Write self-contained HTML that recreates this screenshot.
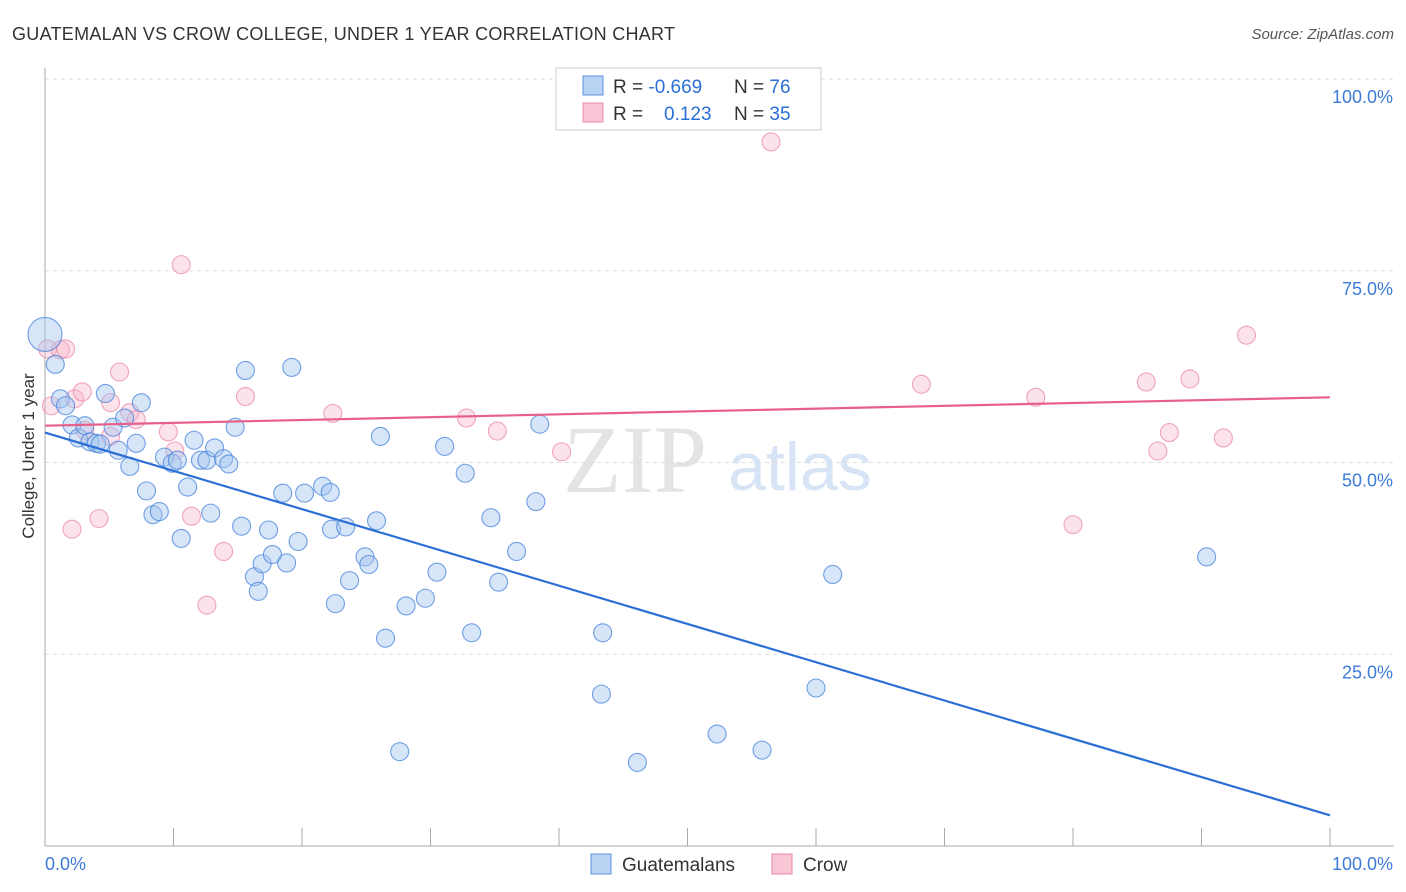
<!DOCTYPE html>
<html><head><meta charset="utf-8">
<style>
body{margin:0;background:#fff;font-family:"Liberation Sans",sans-serif;}
svg{display:block}
</style></head>
<body>
<svg id="chart" width="1406" height="892">
<text x="12" y="40" font-size="18" fill="#333" textLength="663">GUATEMALAN VS CROW COLLEGE, UNDER 1 YEAR CORRELATION CHART</text>
<text x="1394" y="39" font-size="15" fill="#555" font-style="italic" text-anchor="end">Source: ZipAtlas.com</text>
<text x="635" y="492" font-size="96" fill="#e4e4e4" font-family="Liberation Serif,serif" text-anchor="middle">ZIP</text>
<text x="800" y="490" font-size="68" fill="#d6e4f5" text-anchor="middle">atlas</text>
<g id="grid"></g>
<g id="axes"></g>
<g id="marks"></g>
<text transform="translate(34,456) rotate(-90)" font-size="17" fill="#333" text-anchor="middle">College, Under 1 year</text>
<g>
<rect x="556" y="68" width="265" height="62" fill="#fff" stroke="#ccc"/>
<rect x="583" y="76" width="20" height="19" fill="#b9d3f5" stroke="#5b8fde"/>
<rect x="583" y="103" width="20" height="19" fill="#f9c6d5" stroke="#e88aa5"/>
<text x="613" y="93" font-size="19" fill="#333">R = <tspan fill="#2b6fd6">-0.669</tspan><tspan x="734">N = </tspan><tspan fill="#2b6fd6">76</tspan></text>
<text x="613" y="120" font-size="19" fill="#333">R = <tspan x="664" fill="#2b6fd6">0.123</tspan><tspan x="734">N = </tspan><tspan fill="#2b6fd6">35</tspan></text>
</g>
<g>
<rect x="591" y="854" width="20" height="20" fill="#b9d3f5" stroke="#5b8fde"/>
<text x="622" y="871" font-size="19" fill="#333">Guatemalans</text>
<rect x="772" y="854" width="20" height="20" fill="#f9c6d5" stroke="#e88aa5"/>
<text x="803" y="871" font-size="19" fill="#333">Crow</text>
</g>
</svg>
<script>
const yTicks=[25,50,75,100];
const yTickLabels=["25.0%","50.0%","75.0%","100.0%"];
const blueX=[0,0.8,1.2,1.6,2.1,2.6,3.1,3.5,4.0,4.3,4.7,5.3,5.7,6.2,6.6,7.1,7.5,7.9,8.4,8.9,9.3,9.9,10.3,10.6,11.1,11.6,12.1,12.6,12.9,13.2,13.9,14.3,14.8,15.3,15.6,16.3,16.6,16.9,17.4,17.7,18.5,18.8,19.2,19.7,20.2,21.6,22.2,22.3,22.6,23.4,23.7,24.9,25.2,25.8,26.1,26.5,27.6,28.1,29.6,30.5,31.1,32.7,33.2,34.7,35.3,36.7,38.2,38.5,43.3,43.4,46.1,52.3,55.8,60.0,61.3,90.4];
const blueY=[66.7,62.8,58.3,57.4,54.9,53.2,54.8,52.7,52.5,52.4,59.0,54.6,51.6,55.8,49.5,52.5,57.8,46.3,43.2,43.6,50.7,49.9,50.3,40.1,46.8,52.9,50.3,50.3,43.4,51.9,50.5,49.8,54.6,41.7,62.0,35.1,33.2,36.8,41.2,38.0,46.0,36.9,62.4,39.7,46.0,46.9,46.1,41.3,31.6,41.6,34.6,37.7,36.7,42.4,53.4,27.1,12.3,31.3,32.3,35.7,52.1,48.6,27.8,42.8,34.4,38.4,44.9,55.0,19.8,27.8,10.9,14.6,12.5,20.6,35.4,37.7];
const pinkX=[0.2,0.5,1.2,1.6,2.3,2.9,3.1,4.2,2.1,5.1,5.1,5.8,6.6,7.1,9.6,10.1,10.6,11.4,12.6,13.9,15.6,22.4,32.8,35.2,40.2,56.5,68.2,77.1,80.0,85.7,86.6,87.5,89.1,91.7,93.5];
const pinkY=[64.8,57.4,64.7,64.8,58.3,59.2,54.2,42.7,41.3,57.8,53.4,61.8,56.5,55.6,54.0,51.5,75.8,43.0,31.4,38.4,58.6,56.4,55.8,54.1,51.4,91.8,60.2,58.5,41.9,60.5,51.5,53.9,60.9,53.2,66.6];
const blueFit=[53.9,4.0];
const pinkFit=[54.8,58.5];

const NS="http://www.w3.org/2000/svg";
const X0=45,X1=1330,Y0=846,Y100=79;
const sx=v=>X0+(X1-X0)*v/100;
const sy=v=>Y0-(Y0-Y100)*v/100;
function mk(tag,attrs,parent){const e=document.createElementNS(NS,tag);for(const k in attrs)e.setAttribute(k,attrs[k]);parent.appendChild(e);return e;}
const grid=document.getElementById('grid'),axes=document.getElementById('axes'),marks=document.getElementById('marks');
yTicks.forEach((t,i)=>{
 const l=mk('line',{x1:45,x2:1394,y1:sy(t),y2:sy(t),stroke:'#ddd','stroke-dasharray':'4,4'},grid);
 
 
 const tx=mk('text',{x:1393,y:sy(t)+24,'font-size':18,fill:'#3d7bd9','text-anchor':'end'},axes);
 tx.textContent=yTickLabels[i];
 
 
});
const ya=mk('line',{x1:45,x2:45,y1:68,y2:846,stroke:'#aaa'},axes);


const xa=mk('line',{x1:45,x2:1394,y1:846,y2:846,stroke:'#aaa'},axes);


for(let i=1;i<=10;i++){const t=mk('line',{x1:sx(i*10),x2:sx(i*10),y1:828,y2:846,stroke:'#aaa'},axes);
 
 }
const xl0=mk('text',{x:45,y:870,'font-size':18,fill:'#3d7bd9'},axes);xl0.textContent='0.0%';


const xl1=mk('text',{x:1393,y:870,'font-size':18,fill:'#3d7bd9','text-anchor':'end'},axes);xl1.textContent='100.0%';


pinkX.forEach((x,i)=>{const c=mk('circle',{cx:sx(x),cy:sy(pinkY[i]),r:9,fill:'rgba(247,182,202,0.4)',stroke:'rgba(232,130,165,0.7)','stroke-width':1.1},marks);
 
 });
blueX.forEach((x,i)=>{const c=mk('circle',{cx:sx(x),cy:sy(blueY[i]),r:i===0?17:9,fill:'rgba(165,198,240,0.45)',stroke:'rgba(70,130,220,0.75)','stroke-width':1.1},marks);
 
 });
const bl=mk('line',{x1:sx(0),y1:sy(blueFit[0]),x2:sx(100),y2:sy(blueFit[1]),stroke:'#2b6fd6','stroke-width':2.2},marks);


const pl=mk('line',{x1:sx(0),y1:sy(pinkFit[0]),x2:sx(100),y2:sy(pinkFit[1]),stroke:'#e8608a','stroke-width':2.2},marks);


</script>
</body></html>
